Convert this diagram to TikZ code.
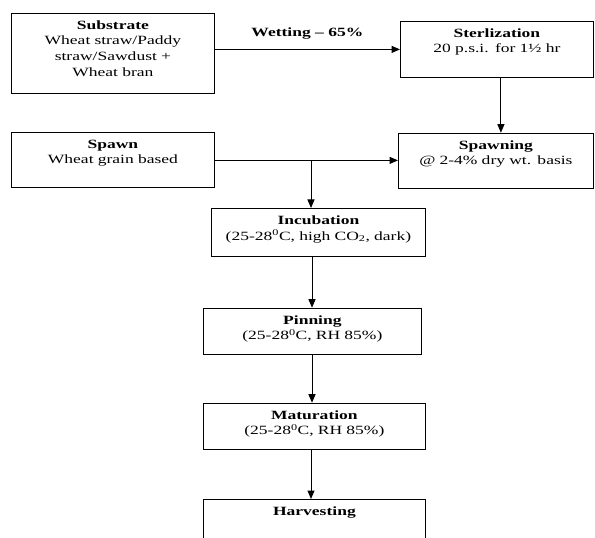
\documentclass[tikz,border=0pt]{standalone}
\usepackage{fontspec}
\setmainfont{Liberation Serif}[FakeStretch=1.39]
\usepackage{tikz}
\usetikzlibrary{arrows.meta,calc}
\tikzset{>={Triangle[length=8.5bp,width=7bp]},every node/.style={font=\fontsize{12.6bp}{15.7bp}\selectfont},
 block/.style={draw,line width=0.8bp,anchor=north west,align=center,inner xsep=2bp,inner ysep=5bp,
 text height=11bp},flow/.style={->,line width=1bp}}
\begin{document}
\begin{tikzpicture}[x=1bp,y=-1bp]
\clip (0,0) rectangle (595,538);
\node[block,text width=199bp,text depth=59bp] (substrate) at (11,12.7)
 {\textbf{Substrate}\\Wheat straw/Paddy\\straw/Sawdust +\\Wheat bran};
\node[block,text width=189bp,text depth=35.6bp] (sterl) at (400,20.7)
 {\textbf{Sterlization}\\20 p.s.i. for 1½ hr};
\node[block,text width=199bp,text depth=34.8bp] (spawn) at (11,131.7)
 {\textbf{Spawn}\\Wheat grain based};
\node[block,text width=191bp,text depth=34bp] (spawning) at (398,132.7)
 {\textbf{Spawning}\\@ 2-4\% dry wt. basis};
\node[block,text width=210bp,text depth=27bp] (incub) at (211,208)
 {\textbf{Incubation}\\(25-28\textsuperscript{0}C, high CO\textsubscript{2}, dark)};
\node[block,text width=214bp,text depth=25.3bp] (pinning) at (203,307.7)
 {\textbf{Pinning}\\(25-28\textsuperscript{0}C, RH 85\%)};
\node[block,text width=218bp,text depth=25.6bp] (maturation) at (203,402.7)
 {\textbf{Maturation}\\(25-28\textsuperscript{0}C, RH 85\%)};
\node[block,text width=218bp,text depth=49bp] (harvest) at (203,499)
 {\textbf{Harvesting}};
\coordinate (junc) at (311,160.4);
% substrate and spawn side
\draw[flow] (sterl.west -| substrate.east) -- (sterl.west)
 node[midway,above=10bp,inner sep=0pt] (wetting) {\textbf{Wetting -- 65\%}};
\draw[flow] ([xshift=4bp]sterl.south) -- ([xshift=4bp]sterl.south |- spawning.north);
\draw[flow] (junc -| spawn.east) -- (junc -| spawning.west);
% down the chain
\draw[flow] (junc) -- (junc |- incub.north);
\draw[flow] ([xshift=1bp]junc |- incub.south) -- ([xshift=1bp]junc |- pinning.north);
\draw[flow] ([xshift=1bp]junc |- pinning.south) -- ([xshift=1bp]junc |- maturation.north);
\draw[flow] (junc |- maturation.south) -- (junc |- harvest.north);
\end{tikzpicture}
\end{document}
